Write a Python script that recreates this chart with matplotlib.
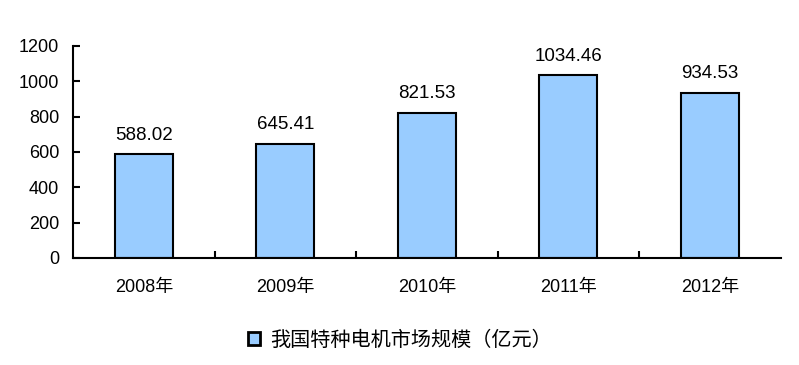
import matplotlib
matplotlib.use("Agg")
import matplotlib.pyplot as plt
import numpy as np

plt.rcParams['font.family'] = ['Liberation Sans', 'Noto Sans CJK SC', 'DejaVu Sans']

# data
years = ["2008年", "2009年", "2010年", "2011年", "2012年"]
values = [588.02, 645.41, 821.53, 1034.46, 934.53]
series_name = "我国特种电机市场规模（亿元）"

fig = plt.figure(figsize=(7.99, 3.65), dpi=100)
ax = fig.add_axes([0.0914, 0.2932, 0.8856, 0.5808])

x = np.arange(len(years))
bars = ax.bar(x, values, width=0.41, color="#99CCFF", edgecolor="black",
              linewidth=1.5, label=series_name, zorder=2)

for xi, v in zip(x, values):
    ax.text(xi, v + 60, f"{v:.2f}", ha="center", va="bottom", fontsize=13.5)

ax.set_xlim(-0.5, len(years) - 0.5)
ax.set_ylim(0, 1200)
ax.set_yticks(range(0, 1201, 200))
ax.set_xticks(x)
ax.set_xticklabels(years, fontsize=13)
ax.set_xticks(np.arange(0.5, len(years) - 0.5), minor=True)
ax.tick_params(axis="x", which="major", length=0, pad=15)
ax.tick_params(axis="x", which="minor", direction="in", length=5, width=1.5)
ax.tick_params(axis="y", direction="in", length=5, width=1.5, labelsize=13, pad=10)

for s in ["top", "right"]:
    ax.spines[s].set_visible(False)
for s in ["left", "bottom"]:
    ax.spines[s].set_linewidth(1.5)

leg = fig.legend(loc="center", bbox_to_anchor=(0.5, 0.068), frameon=False,
                 handlelength=0.6, handleheight=0.6, handletextpad=0.5,
                 prop={'family': ['Noto Sans CJK SC'], 'size': 14.5})
for h in leg.legend_handles:
    h.set_linewidth(2)

fig.savefig("out.png", dpi=100)
